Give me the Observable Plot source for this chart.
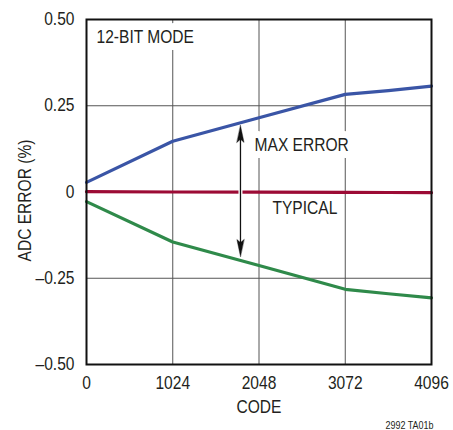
<!DOCTYPE html>
<html>
<head>
<meta charset="utf-8">
<script src="https://cdn.jsdelivr.net/npm/d3@7"></script>
<script src="https://cdn.jsdelivr.net/npm/@observablehq/plot@0.6"></script>
<style>
  html, body { margin: 0; padding: 0; background: #fff; }
  #chart { width: 453px; height: 430px; }
</style>
</head>
<body>
<div id="chart"></div>
<script>
const codes = [0, 1024, 2048, 3072, 3584, 4096];
const maxError = [0.028, 0.147, 0.215, 0.283, 0.294, 0.307];
const minError = [-0.028, -0.145, -0.213, -0.282, -0.295, -0.307];
const typicalError = [0.001, 0.0, -0.0005, -0.001, -0.0015, -0.002];

const xTicks = [0, 1024, 2048, 3072, 4096];
const xTickLabels = ["0", "1024", "2048", "3072", "4096"];
const yTicks = [-0.5, -0.25, 0, 0.25, 0.5];
const yTickLabels = ["\u20130.50", "\u20130.25", "0", "0.25", "0.50"];

const arrowCode = 1828;
const arrowTop = 0.193;
const arrowBottom = -0.187;

const FONT = "'Liberation Sans', Arial, sans-serif";
const INK = "#231f20";
const FS = 17.7;
const CONDENSE = 0.88;

const series = (vals) => codes.map((c, i) => ({code: c, v: vals[i]}));

const head = {
  draw(context, l, r) {
    context.moveTo(0, -l);
    context.lineTo(r, 0);
    context.lineTo(0, -l * 0.18);
    context.lineTo(-r, 0);
    context.closePath();
  }
};

const chart = Plot.plot({
  width: 453,
  height: 430,
  marginLeft: 86,
  marginRight: 22,
  marginTop: 19,
  marginBottom: 66,
  style: {fontFamily: FONT, fontSize: FS + "px", color: INK, background: "#fff"},
  x: {domain: [0, 4096]},
  y: {domain: [-0.5, 0.5]},
  marks: [
    Plot.ruleX(xTicks.slice(1, -1), {stroke: "#555", strokeWidth: 1}),
    Plot.ruleY(yTicks.slice(1, -1), {stroke: "#555", strokeWidth: 1}),
    Plot.line(series(typicalError), {x: "code", y: "v", stroke: "#9c0b35", strokeWidth: 3.2}),
    Plot.ruleX([arrowCode], {y1: arrowBottom + 0.03, y2: arrowTop - 0.03, stroke: "#fff", strokeWidth: 4}),
    Plot.text(["12-BIT MODE"], {x: 119, y: 0.449, textAnchor: "start", fontSize: FS, fill: INK, stroke: "#fff", strokeWidth: 14}),
    Plot.text(["MAX ERROR"], {x: 1995, y: 0.136, textAnchor: "start", fontSize: FS, fill: INK, stroke: "#fff", strokeWidth: 14}),
    Plot.text(["TYPICAL"], {x: 2208, y: -0.048, textAnchor: "start", fontSize: FS, fill: INK, stroke: "#fff", strokeWidth: 8}),
    Plot.line(series(maxError), {x: "code", y: "v", stroke: "#3a55a6", strokeWidth: 3.2}),
    Plot.line(series(minError), {x: "code", y: "v", stroke: "#2f8a4a", strokeWidth: 3.2}),
    Plot.ruleX([arrowCode], {y1: arrowBottom + 0.02, y2: arrowTop - 0.02, stroke: "#111", strokeWidth: 1.3}),
    Plot.vector([arrowCode], {x: d => d, y: arrowTop, length: 17, r: 3.6, anchor: "end", rotate: 0, shape: head, fill: "#111", stroke: "#111", strokeWidth: 0.4}),
    Plot.vector([arrowCode], {x: d => d, y: arrowBottom, length: 17, r: 3.6, anchor: "end", rotate: 180, shape: head, fill: "#111", stroke: "#111", strokeWidth: 0.4}),
    Plot.frame({stroke: "#111", strokeWidth: 2}),
    Plot.axisX({ticks: xTicks, tickFormat: (d) => xTickLabels[xTicks.indexOf(d)], tickSize: 0, tickPadding: 12, label: null, fontSize: FS}),
    Plot.axisY({ticks: yTicks, tickFormat: (d) => yTickLabels[yTicks.indexOf(d)], tickSize: 0, tickPadding: 12, label: null, fontSize: FS}),
    Plot.text(["ADC ERROR (%)"], {frameAnchor: "left", rotate: -90, dx: -61, dy: 8.5, textAnchor: "middle", lineAnchor: "middle", fontSize: FS, fill: INK}),
    Plot.text(["CODE"], {frameAnchor: "bottom", dy: 42.5, textAnchor: "middle", lineAnchor: "middle", fontSize: FS, fill: INK}),
    Plot.text(["2992 TA01b"], {frameAnchor: "bottom-right", dx: 2, dy: 61, textAnchor: "end", lineAnchor: "middle", fontSize: 10.2, fill: INK})
  ]
});
document.getElementById("chart").appendChild(chart);

// Condense all text horizontally to mimic the narrow datasheet typeface
chart.querySelectorAll("text").forEach((t) => {
  const len = t.getComputedTextLength();
  if (len > 0) {
    t.setAttribute("textLength", (len * CONDENSE).toFixed(2));
    t.setAttribute("lengthAdjust", "spacingAndGlyphs");
  }
});
</script>
</body>
</html>
